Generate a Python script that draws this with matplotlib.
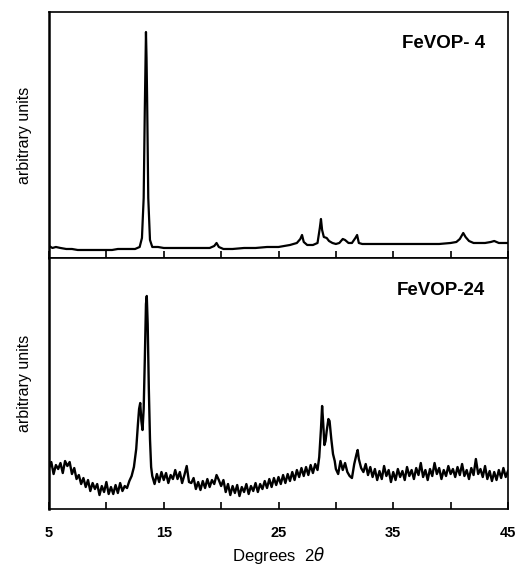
import numpy as np
import matplotlib.pyplot as plt

plt.rcParams['font.family'] = ['Liberation Sans', 'DejaVu Sans']

# FeVOP-4 trace (2theta in degrees, intensity in arbitrary units)
x_top = [5.0, 5.3, 5.6, 6.0, 6.5, 7.0, 7.5, 8.0, 8.5, 9.0, 9.5, 10.0, 10.5, 11.0, 11.5,
         12.0, 12.5, 12.9, 13.1, 13.25, 13.35, 13.45, 13.5, 13.55, 13.65, 13.8, 14.0,
         14.5, 15.0, 16.0, 17.0, 18.0, 19.0, 19.4, 19.6, 19.8, 20.2, 21.0, 22.0, 23.0,
         24.0, 25.0, 26.0, 26.6, 26.9, 27.05, 27.2, 27.5, 28.0, 28.4, 28.6, 28.7, 28.8,
         28.95, 29.2, 29.4, 29.7, 30.0, 30.3, 30.6, 30.8, 31.1, 31.4, 31.7, 31.85, 32.0,
         32.3, 33.0, 34.0, 35.0, 36.0, 37.0, 38.0, 39.0, 40.0, 40.5, 40.8, 41.1, 41.3,
         41.6, 42.0, 42.5, 43.0, 43.5, 43.8, 44.2, 44.6, 45.0]
y_top = [12, 10, 11, 10, 9, 9, 8, 8, 8, 8, 8, 8, 8, 9, 9,
         9, 9, 11, 20, 60, 150, 226, 200, 160, 60, 18, 11,
         11, 10, 10, 10, 10, 10, 12, 15, 11, 9, 9, 10, 10,
         11, 11, 13, 15, 19, 23, 16, 13, 13, 15, 30, 39, 28,
         21, 20, 17, 15, 14, 15, 19, 18, 15, 15, 20, 23, 15,
         14, 14, 14, 14, 14, 14, 14, 14, 15, 16, 19, 25, 21,
         17, 15, 15, 15, 16, 17, 15, 15, 15]

# FeVOP-24 trace
x_bot = [5.0, 5.2, 5.4, 5.6, 5.8, 6.0, 6.2, 6.4, 6.6, 6.8, 7.0, 7.2, 7.4, 7.6, 7.8, 8.0,
         8.2, 8.4, 8.6, 8.8, 9.0, 9.2, 9.4, 9.6, 9.8, 10.0, 10.2, 10.4, 10.6, 10.8, 11.0,
         11.2, 11.4, 11.6, 11.8, 12.0, 12.2, 12.4, 12.6, 12.75, 12.85, 12.95, 13.05, 13.15,
         13.25, 13.35, 13.45, 13.52, 13.6, 13.7, 13.8, 13.9, 14.0, 14.2, 14.4, 14.6, 14.8,
         15.0, 15.2, 15.4, 15.6, 15.8, 16.0, 16.2, 16.4, 16.6, 16.8, 17.0, 17.2, 17.4, 17.6,
         17.8, 18.0, 18.2, 18.4, 18.6, 18.8, 19.0, 19.2, 19.4, 19.6, 19.8, 20.0, 20.2, 20.4,
         20.6, 20.8, 21.0, 21.2, 21.4, 21.6, 21.8, 22.0, 22.2, 22.4, 22.6, 22.8, 23.0, 23.2,
         23.4, 23.6, 23.8, 24.0, 24.2, 24.4, 24.6, 24.8, 25.0, 25.2, 25.4, 25.6, 25.8, 26.0,
         26.2, 26.4, 26.6, 26.8, 27.0, 27.2, 27.4, 27.6, 27.8, 28.0, 28.2, 28.4, 28.55, 28.7,
         28.8, 28.9, 29.0, 29.1, 29.2, 29.35, 29.45, 29.6, 29.75, 29.9, 30.0, 30.2, 30.4,
         30.6, 30.8, 31.0, 31.2, 31.4, 31.6, 31.8, 31.9, 32.0, 32.2, 32.4, 32.6, 32.8, 33.0,
         33.2, 33.4, 33.6, 33.8, 34.0, 34.2, 34.4, 34.6, 34.8, 35.0, 35.2, 35.4, 35.6, 35.8,
         36.0, 36.2, 36.4, 36.6, 36.8, 37.0, 37.2, 37.4, 37.6, 37.8, 38.0, 38.2, 38.4, 38.6,
         38.8, 39.0, 39.2, 39.4, 39.6, 39.8, 40.0, 40.2, 40.4, 40.6, 40.8, 41.0, 41.2, 41.4,
         41.6, 41.8, 42.0, 42.2, 42.4, 42.6, 42.8, 43.0, 43.2, 43.4, 43.6, 43.8, 44.0, 44.2,
         44.4, 44.6, 44.8, 45.0]
y_bot = [41, 47, 35, 44, 40, 46, 36, 48, 43, 47, 35, 41, 30, 34, 25, 31,
         22, 29, 18, 26, 20, 25, 14, 23, 17, 27, 15, 22, 15, 24, 16,
         26, 18, 23, 21, 28, 33, 42, 60, 85, 100, 106, 88, 79,
         100, 150, 205, 213, 185, 120, 70, 42, 33, 25, 35, 27, 37,
         29, 36, 26, 34, 30, 39, 30, 37, 26, 34, 43, 27, 26, 31,
         20, 27, 19, 28, 21, 30, 22, 29, 25, 34, 29, 23, 29, 17,
         25, 14, 23, 16, 24, 13, 22, 17, 25, 15, 23, 18, 26, 17,
         25, 20, 28, 21, 30, 22, 31, 24, 32, 25, 34, 26, 35, 28,
         37, 29, 39, 32, 41, 33, 42, 34, 44, 36, 45, 39, 52, 80,
         103, 85, 64, 68, 78, 90, 88, 70, 55, 48, 40, 35, 48,
         39, 46, 37, 33, 31, 45, 55, 59, 50, 41, 37, 45, 34, 42,
         32, 40, 29, 38, 30, 43, 33, 39, 27, 37, 29, 40, 32, 38,
         29, 42, 33, 39, 30, 41, 34, 46, 32, 39, 29, 40, 33, 46,
         35, 41, 30, 39, 33, 43, 35, 40, 32, 42, 34, 45, 33, 39,
         30, 41, 34, 50, 35, 40, 32, 43, 30, 38, 28, 37, 29, 39,
         31, 41, 32, 38]

labels = ['FeVOP- 4', 'FeVOP-24']
tick_major = [5, 15, 25, 35, 45]
tick_minor = [10, 20, 30, 40]

fig = plt.figure(figsize=(5.18, 5.69), dpi=100)
ax1 = fig.add_axes([0.0946, 0.5466, 0.8861, 0.4323])
ax2 = fig.add_axes([0.0946, 0.1054, 0.8861, 0.4412])

ax1.plot(x_top, y_top, color='black', lw=1.6)
ax2.plot(x_bot, y_bot, color='black', lw=1.7)

for ax, lab, ytop in [(ax1, labels[0], 246), (ax2, labels[1], 251)]:
    ax.set_xlim(5, 45)
    ax.set_ylim(0, ytop)
    ax.set_yticks([])
    ax.set_xticks(tick_major)
    ax.set_xticks(tick_minor, minor=True)
    ax.tick_params(axis='x', which='both', direction='in', length=5, width=1.2)
    for s in ax.spines.values():
        s.set_linewidth(1.2)
    ax.spines['left'].set_linewidth(1.8)
    ax.set_ylabel('arbitrary units', fontsize=11.5, labelpad=12)
    ax.text(0.95, 0.87, lab, transform=ax.transAxes, ha='right', va='center',
            fontsize=13.5, fontweight='bold')

ax1.set_xticklabels([])
ax2.set_xticklabels([str(t) for t in tick_major], fontsize=10.5, fontweight='bold')
ax2.tick_params(axis='x', pad=12)
ax2.set_xlabel(r'Degrees  2$\theta$', fontsize=12, labelpad=4)

fig.savefig('out.png', dpi=100)
